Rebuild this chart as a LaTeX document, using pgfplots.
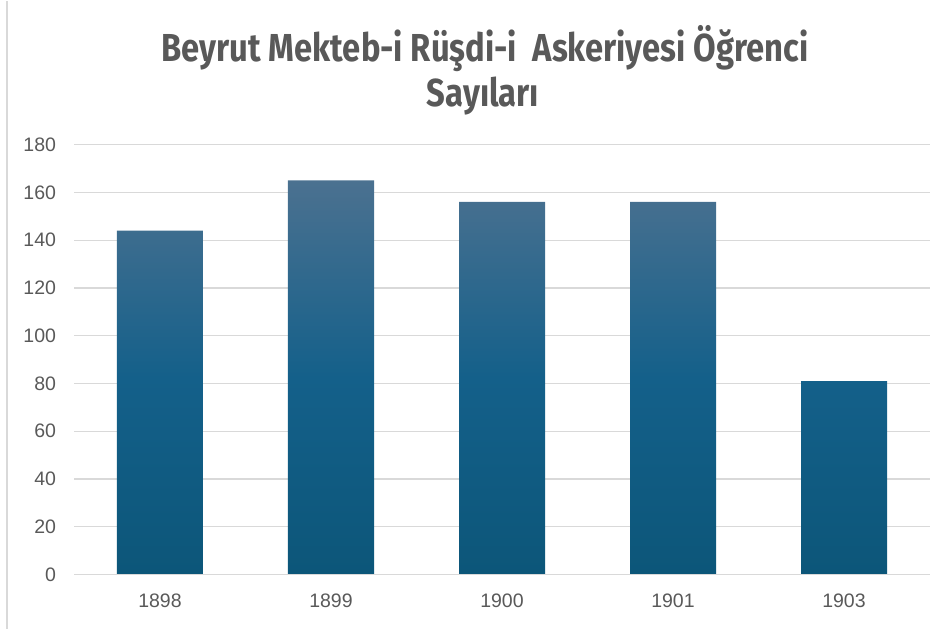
\documentclass[border=0pt]{standalone}
\usepackage{pgfplots}
\pgfplotsset{compat=1.18}
\usepackage{fontspec}
\setmainfont{Liberation Sans}
\newfontfamily\titlefont[FakeStretch=0.84]{Fira Sans}

\definecolor{bardark}{HTML}{0C5679}
\definecolor{barmid}{HTML}{14608A}
\definecolor{barlight}{HTML}{4B7190}
\definecolor{gridgrey}{HTML}{D9D9D9}
\definecolor{textgrey}{HTML}{595959}
\pgfdeclareverticalshading{barshade}{100bp}{color(0bp)=(bardark); color(25bp)=(bardark); color(50bp)=(barmid); color(75bp)=(barlight); color(100bp)=(barlight)}

\begin{document}
\begin{tikzpicture}
\begin{axis}[
    scale only axis,
    width=855pt, height=430pt,
    ymin=0, ymax=180,
    xmin=-0.5, xmax=4.5,
    ytick={0,20,...,180},
    xtick=data,
    xticklabels={1898,1899,1900,1901,1903},
    ymajorgrids,
    grid style={gridgrey, line width=1.2pt},
    axis line style={draw=none},
    axis x line*=bottom,
    axis y line*=left,
    major tick length=0pt,
    tick label style={font=\fontsize{19.5}{22}\selectfont, text=textgrey},
    /pgf/number format/assume math mode=true,
    yticklabel style={xshift=-15pt},
    xticklabel style={yshift=-16pt},
    clip=false,
]
\addplot[ybar, bar width=86pt, draw=none, shading=barshade] coordinates {
    (0,144) (1,165) (2,156) (3,156) (4,81)
};
\draw[gridgrey, line width=1.2pt] (rel axis cs:0,0) -- (rel axis cs:1,0);
\end{axis}
\node[anchor=base, text=textgrey, font=\titlefont\bfseries\fontsize{39}{44}\selectfont] at (410.5pt,513pt) {Beyrut Mekteb-i Rüşdi-i\ \ Askeriyesi Öğrenci};
\node[anchor=base, text=textgrey, font=\titlefont\bfseries\fontsize{39}{44}\selectfont] at (408.5pt,468pt) {Sayıları};
\draw[gridgrey, line width=1.2pt] (-67.5pt,-54pt) -- (-67.5pt,574pt);
\path[use as bounding box] (-74.5pt,-54pt) rectangle (871.5pt,574pt);
\end{tikzpicture}
\end{document}
